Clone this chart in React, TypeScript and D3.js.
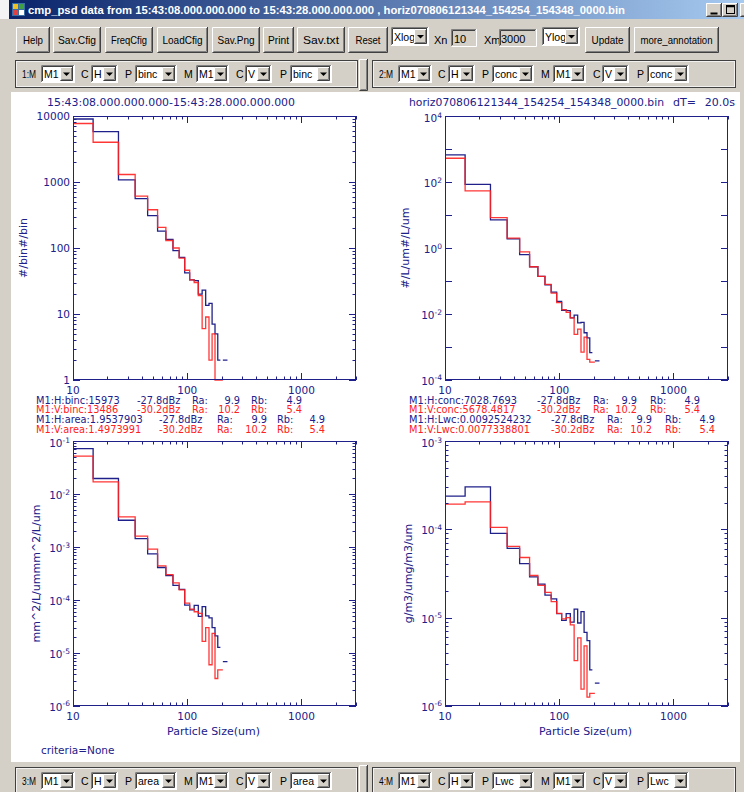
import React from 'react';
import * as d3 from 'd3';

// size bins (um), 10 um wide, the first one 5-15
const binEdges = [5, 15, 25, 35, 45, 55, 65, 75, 85, 95, 105, 115, 125, 135, 145, 155, 165, 175, 185, 195, 205, 215, 225];

// counts per bin
const bincH = [9000, 5800, 1080, 560, 310, 180, 135, 91, 72, 42, 33, 32, 20, 23, 13.5, 14.5, 7, 5, 2, null, 2, 2];
const bincV = [7700, 4000, 1300, 610, 380, 205, 130, 100, 70, 46, 33, 30, 19, 6, 9, 2, 5, 0, 0, 0, null, null];
// concentration #/L/um
const concH = [660, 85, 7.1, 1.9, 0.63, 0.27, 0.138, 0.076, 0.046, 0.024, 0.013, 0.0126, 0.0076, 0.0093, 0.0054, 0.0056, 0.0027, 0.0019, 0.00068, null, 0.00038, 0.00038];
const concV = [525, 54, 8.3, 2.0, 0.76, 0.27, 0.138, 0.079, 0.043, 0.022, 0.0135, 0.0112, 0.0076, 0.0024, 0.0035, 0.0007, 0.002, 0.00042, 0.00035, 0.00035, null, null];
// area mm^2/L/um
const areaH = [0.072, 0.0196, 0.0032, 0.00144, 0.00074, 0.00041, 0.00029, 0.000188, 0.000158, 8.0e-5, 6.5e-5, 7.9e-5, 4.9e-5, 7.5e-5, 5.0e-5, 4.6e-5, 3.0e-5, 2.1e-5, 1.28e-5, null, 6.9e-6, 6.9e-6];
const areaV = [0.052, 0.017, 0.0037, 0.0016, 0.00091, 0.00044, 0.0003, 0.00021, 0.000155, 8.7e-5, 6.7e-5, 6.0e-5, 5.6e-5, 1.66e-5, 3.0e-5, 6.0e-6, 2.35e-5, 3.3e-6, 4.8e-6, 4.8e-6, null, null];
// lwc g/m3/um
const lwcH = [2.38e-4, 3.03e-4, 9.0e-5, 6.1e-5, 4.1e-5, 2.9e-5, 2.4e-5, 1.8e-5, 1.63e-5, 1.11e-5, 9.3e-6, 1.11e-5, 8.9e-6, 1.25e-5, 8.7e-6, 1.17e-5, 6.8e-6, 5.5e-6, 2.57e-6, null, 1.82e-6, 1.82e-6];
const lwcV = [1.93e-4, 2.05e-4, 1.05e-4, 6.4e-5, 4.8e-5, 3.0e-5, 2.32e-5, 1.93e-5, 1.52e-5, 1.12e-5, 9.7e-6, 1.0e-5, 8.3e-6, 3.27e-6, 5.9e-6, 1.55e-6, 4.8e-6, 1.26e-6, 1.39e-6, 1.39e-6, null, null];

const xTickValues = [10, 100, 1000];
const bincTickLabels = ['1', '10', '100', '1000', '10000'];
const concExps = [4, 2, 0, -2, -4];
const areaExps = [-1, -2, -3, -4, -5, -6];
const lwcExps = [-3, -4, -5, -6];

const annotBinc = [
  ['M1:H:binc:15973', '-27.8dBz', '9.9', '4.9'],
  ['M1:V:binc:13486', '-30.2dBz', '10.2', '5.4'],
];
const annotArea = [
  ['M1:H:area:1.9537903', '-27.8dBz', '9.9', '4.9'],
  ['M1:V:area:1.4973991', '-30.2dBz', '10.2', '5.4'],
];
const annotConc = [
  ['M1:H:conc:7028.7693', '-27.8dBz', '9.9', '4.9'],
  ['M1:V:conc:5678.4817', '-30.2dBz', '10.2', '5.4'],
];
const annotLwc = [
  ['M1:H:Lwc:0.0092524232', '-27.8dBz', '9.9', '4.9'],
  ['M1:V:Lwc:0.0077338801', '-30.2dBz', '10.2', '5.4'],
];

const titleText = 'cmp_psd data from 15:43:08.000.000.000 to 15:43:28.000.000.000 , horiz070806121344_154254_154348_0000.bin';
const buttons: [string, number, number, number][] = [
  ['Help', 16, 50, 20], ['Sav.Cfig', 53, 101, 38], ['FreqCfig', 105, 153, 36], ['LoadCfig', 157, 208, 40],
  ['Sav.Png', 212, 260, 37], ['Print', 263, 294, 21], ['Sav.txt', 297, 345, 36], ['Reset', 348, 388, 25],
  ['Update', 585, 630, 32], ['more_annotation', 634, 719, 72],
];
const rowGroups = [
  { left: 15, right: 357, top: 60, label: '1:M', items: ['M1', 'H', 'binc', 'M1', 'V', 'binc'] },
  { left: 372, right: 735, top: 60, label: '2:M', items: ['M1', 'H', 'conc', 'M1', 'V', 'conc'] },
  { left: 15, right: 357, top: 767, label: '3:M', items: ['M1', 'H', 'area', 'M1', 'V', 'area'] },
  { left: 372, right: 735, top: 767, label: '4:M', items: ['M1', 'H', 'Lwc', 'M1', 'V', 'Lwc'] },
];

const FACE = '#d4d0c8';
const NAVY = '#20208a';
const RED = '#ff2020';
const UI = "'Liberation Sans', Arial, sans-serif";
const PF = "'DejaVu Sans', sans-serif";

const Raised = ({ x, y, w, h }: any) => (
  <g>
    <rect x={x} y={y} width={w} height={h} fill={FACE} />
    <path d={`M${x + 0.5},${y + h - 1}V${y + 0.5}H${x + w - 1}`} stroke="#fff" fill="none" />
    <path d={`M${x + 0.5},${y + h - 0.5}H${x + w - 0.5}V${y}`} stroke="#404040" fill="none" />
    <path d={`M${x + 1.5},${y + h - 1.5}H${x + w - 1.5}V${y + 1}`} stroke="#808080" fill="none" />
  </g>
);

const Sunken = ({ x, y, w, h, fill }: any) => (
  <g>
    <rect x={x} y={y} width={w} height={h} fill={fill} />
    <path d={`M${x + 0.5},${y + h - 1}V${y + 0.5}H${x + w - 1}`} stroke="#808080" fill="none" />
    <path d={`M${x + 1.5},${y + h - 2}V${y + 1.5}H${x + w - 2}`} stroke="#404040" fill="none" />
    <path d={`M${x + 0.5},${y + h - 0.5}H${x + w - 0.5}V${y}`} stroke="#fff" fill="none" />
  </g>
);

const Dropdown = ({ x, y, w, h, text }: any) => {
  const bw = 13;
  const bx = x + w - bw - 2;
  const cx = bx + bw / 2;
  const cy = y + h / 2;
  return (
    <g>
      <Sunken x={x} y={y} w={w} h={h} fill="#fff" />
      <text x={x + 3} y={y + h - 5} fontFamily={UI} fontSize={10.5} fill="#000">{text}</text>
      <Raised x={bx} y={y + 2} w={bw} h={h - 4} />
      <path d={`M${cx - 3.5},${cy - 1.5}H${cx + 3.5}L${cx},${cy + 2}Z`} fill="#000" />
    </g>
  );
};

const dropSlots = [[26, 34], [76, 27], [120, 42], [181, 33], [230, 27], [275, 42]];
const letterSlots: [string, number][] = [['C', 66], ['P', 110], ['M', 169], ['C', 221], ['P', 265]];

const Group = ({ g }: any) => (
  <g>
    <rect x={g.left + 0.5} y={g.top + 0.5} width={g.right - g.left} height={27} fill="none" stroke="#404040" />
    <rect x={g.left + 1.5} y={g.top + 1.5} width={g.right - g.left - 2} height={25} fill="none" stroke="#fff" strokeOpacity={0.7} />
    <text x={g.left + 7} y={g.top + 18} fontFamily={UI} fontSize={11} fill="#000" textLength={14} lengthAdjust="spacingAndGlyphs">{g.label}</text>
    {letterSlots.map(([t, dx], i) => (
      <text key={i} x={g.left + dx} y={g.top + 18} fontFamily={UI} fontSize={10.5} fill="#000">{t}</text>
    ))}
    {g.items.map((t: string, i: number) => (
      <Dropdown key={i} x={g.left + dropSlots[i][0]} y={g.top + 5} w={dropSlots[i][1]} h={18} text={t} />
    ))}
  </g>
);

type PanelSpec = {
  id: string; x0: number; x1: number; y0: number; y1: number; dom: [number, number];
  h: (number | null)[]; v: (number | null)[]; minor: boolean; yLabel: string; yLabelX: number;
  labels: { v: number; base: string; exp?: string }[]; xTitle: boolean;
};

const panels: PanelSpec[] = [
  {
    id: 'binc', x0: 73, x1: 356, y0: 116, y1: 380, dom: [1, 1e4], h: bincH, v: bincV, minor: true,
    yLabel: '#/bin#/bin', yLabelX: 23, xTitle: false,
    labels: bincTickLabels.map(s => ({ v: +s, base: s })),
  },
  {
    id: 'conc', x0: 445, x1: 728, y0: 116, y1: 380, dom: [1e-4, 1e4], h: concH, v: concV, minor: false,
    yLabel: '#/L/um#/L/um', yLabelX: 405, xTitle: false,
    labels: concExps.map(e => ({ v: Math.pow(10, e), base: '10', exp: String(e) })),
  },
  {
    id: 'area', x0: 73, x1: 356, y0: 441, y1: 706, dom: [1e-6, 1e-1], h: areaH, v: areaV, minor: true,
    yLabel: 'mm^2/L/ummm^2/L/um', yLabelX: 36, xTitle: true,
    labels: areaExps.map(e => ({ v: Math.pow(10, e), base: '10', exp: String(e) })),
  },
  {
    id: 'lwc', x0: 445, x1: 728, y0: 441, y1: 706, dom: [1e-6, 1e-3], h: lwcH, v: lwcV, minor: true,
    yLabel: 'g/m3/umg/m3/um', yLabelX: 408, xTitle: true,
    labels: lwcExps.map(e => ({ v: Math.pow(10, e), base: '10', exp: String(e) })),
  },
];

const isDecade = (t: number) => Math.abs(Math.log10(t) - Math.round(Math.log10(t))) < 1e-6;

const Panel = ({ p }: { p: PanelSpec }) => {
  const x = d3.scaleLog().domain([10, 3000]).range([p.x0, p.x1]);
  const y = d3.scaleLog().domain(p.dom).range([p.y1, p.y0]);
  const line = d3.line<[number, number]>()
    .x(d => x(d[0]))
    .y(d => y(Math.max(d[1], p.dom[0])))
    .curve(d3.curveStepAfter);

  const stepPath = (vals: (number | null)[]) => {
    const runs: number[][] = [];
    let cur: number[] = [];
    vals.forEach((val, i) => {
      if (val == null) { if (cur.length) runs.push(cur); cur = []; } else cur.push(i);
    });
    if (cur.length) runs.push(cur);
    return runs.map(r => {
      const pts: [number, number][] = r.map(i => [binEdges[i], vals[i] as number]);
      const last = r[r.length - 1];
      pts.push([binEdges[last + 1], vals[last] as number]);
      return line(pts);
    }).join('');
  };

  const xt = x.ticks();
  const yt = p.minor ? y.ticks() : d3.range(Math.log10(p.dom[0]), Math.log10(p.dom[1]) + 1).map(e => Math.pow(10, e));

  let tickPath = '';
  xt.forEach(t => {
    const L = isDecade(t) ? 7 : 3.5;
    const xx = Math.round(x(t)) + 0.5;
    tickPath += `M${xx},${p.y1}v${-L}M${xx},${p.y0}v${L}`;
  });
  yt.forEach(t => {
    const L = isDecade(t) ? 7 : 3.5;
    const yy = Math.round(y(t)) + 0.5;
    tickPath += `M${p.x0},${yy}h${L}M${p.x1},${yy}h${-L}`;
  });

  const cy = (p.y0 + p.y1) / 2;
  const labelDy = (i: number, l: { exp?: string }) => {
    if (l.exp == null) return i === p.labels.length - 1 ? 4 : 3.5;
    if (i === 0) return 6;
    if (i === p.labels.length - 1) return 4.5;
    return 5;
  };
  return (
    <g>
      <defs>
        <clipPath id={`clip-${p.id}`}>
          <rect x={p.x0} y={p.y0 - 1} width={p.x1 - p.x0} height={p.y1 - p.y0 + 2} />
        </clipPath>
      </defs>
      <g clipPath={`url(#clip-${p.id})`} fill="none" strokeWidth={1.3}>
        <path d={stepPath(p.h)} stroke={NAVY} />
        <path d={stepPath(p.v)} stroke={RED} strokeOpacity={0.9} />
      </g>
      <rect x={p.x0 + 0.5} y={p.y0 + 0.5} width={p.x1 - p.x0 - 1} height={p.y1 - p.y0 - 1} fill="none" stroke={NAVY} />
      <path d={tickPath} stroke={NAVY} fill="none" />
      {xTickValues.map(t => (
        <text key={t} x={x(t)} y={p.y1 + 14} textAnchor="middle" fontFamily={PF} fontSize={10.5} fill={NAVY}>{t}</text>
      ))}
      {p.labels.map((l, i) => (
        <text key={l.v} x={p.x0 - 3} y={y(l.v) + labelDy(i, l)} textAnchor="end" fontFamily={PF} fontSize={10.5} fill={NAVY}>
          {l.base}
          {l.exp != null && <tspan dy={-4.5} fontSize={7.5}>{l.exp}</tspan>}
        </text>
      ))}
      <text transform={`translate(${p.yLabelX},${cy}) rotate(-90)`} textAnchor="middle" dominantBaseline="central"
        fontFamily={PF} fontSize={11} fill={NAVY}>{p.yLabel}</text>
      {p.xTitle && (
        <text x={(p.x0 + p.x1) / 2 - 1} y={p.y1 + 29} textAnchor="middle" fontFamily={PF} fontSize={11} fill={NAVY}>Particle Size(um)</text>
      )}
    </g>
  );
};

const Annot = ({ rows, cols, y }: { rows: string[][]; cols: number[]; y: number }) => (
  <g fontFamily={PF} fontSize={9.8}>
    {rows.map((r, i) => {
      const c = i === 0 ? NAVY : RED;
      const yy = y + i * 9.5;
      return (
        <g key={i} fill={c}>
          <text x={cols[0]} y={yy}>{r[0]}</text>
          <text x={cols[1]} y={yy}>{r[1]}</text>
          <text x={cols[2]} y={yy}>Ra:</text>
          <text x={cols[3]} y={yy} textAnchor="end">{r[2]}</text>
          <text x={cols[4]} y={yy}>Rb:</text>
          <text x={cols[5]} y={yy} textAnchor="end">{r[3]}</text>
        </g>
      );
    })}
  </g>
);

export default function App() {
  return (
    <svg width={744} height={792} viewBox="0 0 744 792" style={{ position: 'absolute', left: 0, top: 0 }}>
      <defs>
        <linearGradient id="tb" x1="0" x2="1" y1="0" y2="0">
          <stop offset="0" stopColor="#0a246a" />
          <stop offset="1" stopColor="#a6caf0" />
        </linearGradient>
      </defs>
      <rect x={0} y={0} width={744} height={792} fill={FACE} />
      <rect x={0} y={0} width={9} height={19} fill="#f4f4f4" />

      {/* title bar */}
      <rect x={9} y={0} width={735} height={19} fill="url(#tb)" />
      <rect x={12} y={3} width={13} height={13} fill="#3a6ea5" />
      <rect x={13} y={4} width={5} height={5} fill="#f0c020" />
      <rect x={19} y={4} width={5} height={5} fill="#40a040" />
      <rect x={13} y={10} width={5} height={5} fill="#e04040" />
      <rect x={19} y={10} width={5} height={5} fill="#ffffff" />
      <text x={28} y={14} fontFamily={UI} fontWeight="bold" fontSize={11.5} fill="#fff" textLength={597} lengthAdjust="spacingAndGlyphs">{titleText}</text>
      <Raised x={706} y={3} w={16} h={14} />
      <Raised x={722} y={3} w={16} h={14} />
      <Raised x={740} y={3} w={16} h={14} />
      <path d="M710.5,13.5h7" stroke="#000" strokeWidth={2} />
      <rect x={726.5} y={5.5} width={8} height={8} fill="none" stroke="#000" />
      <path d="M726.5,6.5h8" stroke="#000" strokeWidth={1.5} />

      {/* button row */}
      {buttons.map(([t, a, b, tl]) => (
        <g key={t}>
          <Raised x={a} y={27} w={b - a} h={26} />
          <text x={(a + b) / 2} y={44} textAnchor="middle" fontFamily={UI} fontSize={11.5} fill="#000" textLength={tl} lengthAdjust="spacingAndGlyphs">{t}</text>
        </g>
      ))}
      <Dropdown x={391} y={27} w={38} h={19} text="Xlog" />
      <text x={434} y={44} fontFamily={UI} fontSize={11} fill="#000">Xn</text>
      <Sunken x={451} y={29} w={26} h={18} fill={FACE} />
      <text x={454} y={43} fontFamily={UI} fontSize={11} fill="#000">10</text>
      <text x={484} y={44} fontFamily={UI} fontSize={11} fill="#000">Xm</text>
      <Sunken x={499} y={29} w={38} h={18} fill={FACE} />
      <text x={501} y={43} fontFamily={UI} fontSize={11} fill="#000">3000</text>
      <Dropdown x={542} y={27} w={38} h={19} text="Ylog" />

      {/* selector rows */}
      {rowGroups.map((g, i) => <Group key={i} g={g} />)}
      <Raised x={359} y={59} w={9} h={32} />
      <Raised x={359} y={765} w={9} h={30} />

      {/* plot canvas */}
      <rect x={11} y={92} width={729} height={670} fill="#fff" />
      <text x={47} y={106} fontFamily={PF} fontSize={11} fill={NAVY} textLength={248} lengthAdjust="spacingAndGlyphs">15:43:08.000.000.000-15:43:28.000.000.000</text>
      <text x={409} y={106} fontFamily={PF} fontSize={10.3} fill={NAVY} textLength={255} lengthAdjust="spacingAndGlyphs">horiz070806121344_154254_154348_0000.bin</text>
      <text x={673} y={106} fontFamily={PF} fontSize={11} fill={NAVY}>dT=</text>
      <text x={735} y={106} textAnchor="end" fontFamily={PF} fontSize={11} fill={NAVY}>20.0s</text>

      {panels.map(p => <Panel key={p.id} p={p} />)}

      <Annot rows={annotBinc} cols={[36, 137, 192, 240, 251, 302]} y={403.5} />
      <Annot rows={annotArea} cols={[36, 159, 217, 267, 277, 325]} y={423} />
      <Annot rows={annotConc} cols={[409, 537, 593, 637, 650, 700]} y={403.5} />
      <Annot rows={annotLwc} cols={[409, 551, 607, 652, 665, 715]} y={423} />

      <text x={41} y={754} fontFamily={PF} fontSize={10.5} fill={NAVY}>criteria=None</text>
    </svg>
  );
}
